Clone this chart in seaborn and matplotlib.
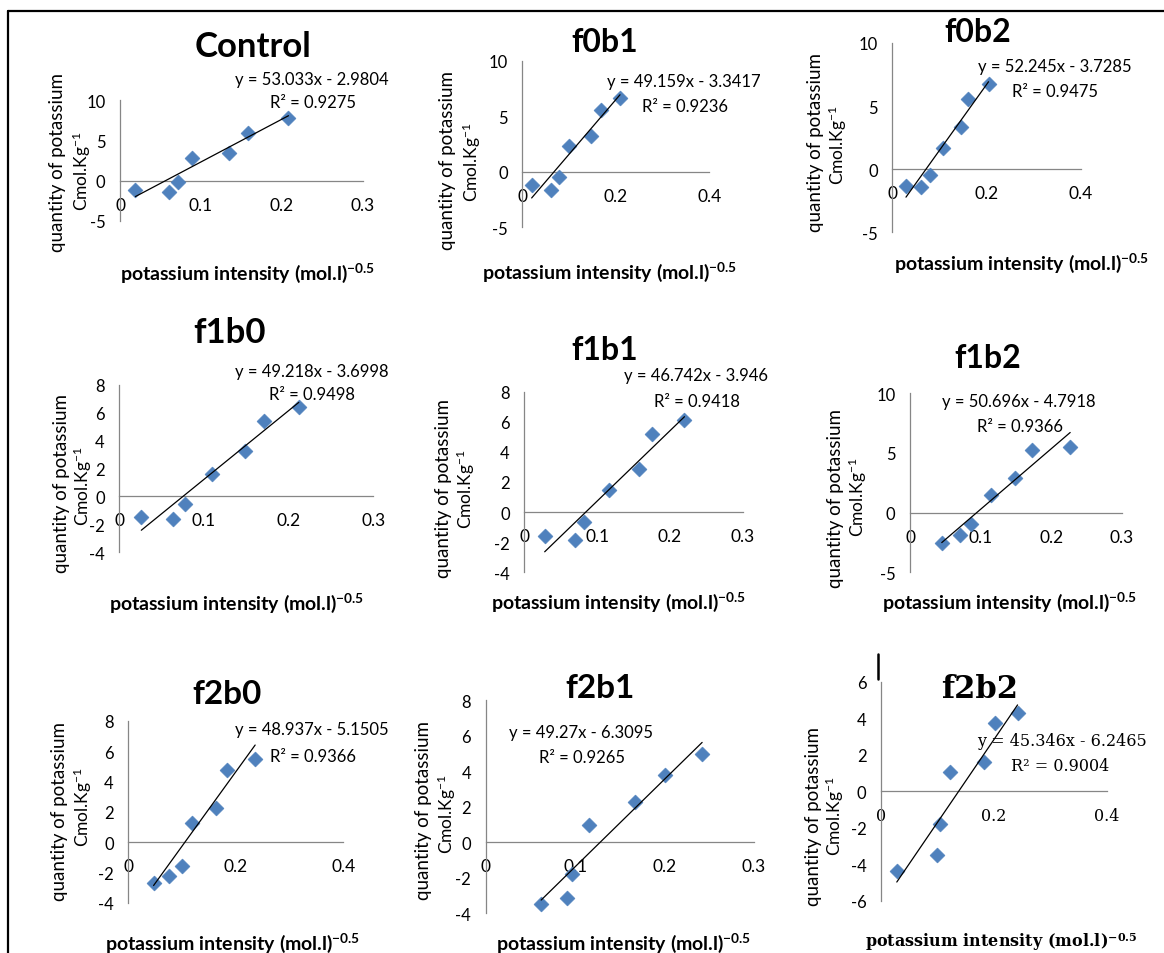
import numpy as np
import pandas as pd
import matplotlib
matplotlib.use("Agg")
import matplotlib.pyplot as plt
import seaborn as sns
from matplotlib.ticker import MultipleLocator, FuncFormatter
from matplotlib.lines import Line2D

# ---------------- data ----------------
titles = ["Control", "f0b1", "f0b2", "f1b0", "f1b1", "f1b2", "f2b0", "f2b1", "f2b2"]

control_x = [0.019, 0.061, 0.072, 0.089, 0.135, 0.158, 0.208]
control_y = [-1.2, -1.4, -0.16, 2.84, 3.46, 5.9, 7.74]
f0b1_x = [0.020, 0.061, 0.079, 0.100, 0.146, 0.168, 0.209]
f0b1_y = [-1.17, -1.62, -0.51, 2.28, 3.18, 5.59, 6.64]
f0b2_x = [0.029, 0.060, 0.079, 0.107, 0.146, 0.161, 0.204]
f0b2_y = [-1.34, -1.39, -0.47, 1.71, 3.35, 5.58, 6.77]
f1b0_x = [0.026, 0.063, 0.078, 0.109, 0.149, 0.171, 0.212]
f1b0_y = [-1.47, -1.6, -0.52, 1.6, 3.27, 5.37, 6.4]
f1b1_x = [0.028, 0.070, 0.082, 0.116, 0.157, 0.176, 0.220]
f1b1_y = [-1.62, -1.84, -0.67, 1.45, 2.89, 5.22, 6.11]
f1b2_x = [0.045, 0.071, 0.087, 0.115, 0.149, 0.173, 0.227]
f1b2_y = [-2.52, -1.9, -0.98, 1.45, 2.94, 5.24, 5.51]
f2b0_x = [0.047, 0.076, 0.099, 0.118, 0.163, 0.184, 0.236]
f2b0_y = [-2.7, -2.22, -1.56, 1.29, 2.24, 4.76, 5.46]
f2b1_x = [0.062, 0.091, 0.097, 0.116, 0.167, 0.201, 0.242]
f2b1_y = [-3.47, -3.15, -1.78, 0.94, 2.25, 3.8, 4.95]
f2b2_x = [0.028, 0.099, 0.105, 0.122, 0.183, 0.202, 0.242]
f2b2_y = [-4.38, -3.47, -1.79, 1.04, 1.59, 3.72, 4.29]

slopes = [53.033, 49.159, 52.245, 49.218, 46.742, 50.696, 48.937, 49.27, 45.346]
intercepts = [-2.9804, -3.3417, -3.7285, -3.6998, -3.946, -4.7918, -5.1505, -6.3095, -6.2465]
r_squared = [0.9275, 0.9236, 0.9475, 0.9498, 0.9418, 0.9366, 0.9366, 0.9265, 0.9004]

x_max = [0.3, 0.4, 0.4, 0.3, 0.3, 0.3, 0.4, 0.3, 0.4]
x_step = [0.1, 0.2, 0.2, 0.1, 0.1, 0.1, 0.2, 0.1, 0.2]
y_min = [-5, -5, -5, -4, -4, -5, -4, -4, -6]
y_max = [10, 10, 10, 8, 8, 10, 8, 8, 6]
y_step = [5, 5, 5, 2, 2, 5, 2, 2, 2]

ylabel_line1 = "quantity of potassium"
ylabel_line2 = "Cmol.Kg$^{-1}$"
xlabel_text = "potassium intensity (mol.l)$^{\\mathbf{-0.5}}$"
xlabel_text_serif = "potassium intensity (mol.l)$^{\\mathsf{-0.5}}$"

xs = [control_x, f0b1_x, f0b2_x, f1b0_x, f1b1_x, f1b2_x, f2b0_x, f2b1_x, f2b2_x]
ys = [control_y, f0b1_y, f0b2_y, f1b0_y, f1b1_y, f1b2_y, f2b0_y, f2b1_y, f2b2_y]

# ---------------- layout (pixels) ----------------
W, H = 1164, 954
# axes box: x0, x1, y_bottom, y_top
ax_box = [(120, 363, 222, 101), (522.3, 709.3, 228.3, 61.7), (892.3, 1081, 233.3, 44),
          (119.3, 373.3, 553.3, 385.7), (524.3, 742.7, 573.3, 392.7), (910, 1121.7, 573.3, 394.3),
          (128.3, 343.3, 904, 721.7), (485.7, 754, 914.3, 701), (881, 1106.7, 901.7, 682.7)]
title_pos = [(253, 47), (605, 42), (978, 33), (230, 333), (605, 350), (988, 358),
             (227, 695), (600, 688), (980, 690)]
title_size = [25, 23, 23, 25, 23, 23, 24, 24, 22]
eq_pos = [(312, 80), (684, 82), (1055, 67), (312, 372), (696, 376), (1019, 402),
          (312, 730), (581, 733), (1062, 742)]
r2_pos = [(313, 103), (685, 107), (1055, 92), (312, 395), (697, 402), (1020, 427),
          (313, 757), (582, 758), (1060, 767)]
yl1_pos = [(57, 162), (448, 160), (815, 142), (62, 484), (443, 488), (835, 498),
           (60, 812), (423, 810), (813, 816)]
yl2_pos = [(82, 171), (472, 162), (838, 145), (83, 486), (466, 489), (858, 497),
           (83, 807), (447, 814), (835, 816)]
xl_pos = [(248, 273), (610, 272), (1022, 263), (237, 603), (619, 602), (1010, 602),
          (233, 943), (624, 943), (1001, 942)]
serif_panel = [False] * 8 + [True]

sns.set_style("white")
SANS = ["Lato", "DejaVu Sans"]
SERIF = ["DejaVu Serif", "DejaVu Sans"]
plt.rcParams["font.family"] = SANS
plt.rcParams["axes.unicode_minus"] = False
plt.rcParams["mathtext.fontset"] = "custom"
plt.rcParams["mathtext.rm"] = "Lato"
plt.rcParams["mathtext.it"] = "Lato:italic"
plt.rcParams["mathtext.bf"] = "Lato:bold"
plt.rcParams["mathtext.sf"] = "DejaVu Serif:bold"

fig = plt.figure(figsize=(W / 100, H / 100), dpi=100)
fig.patch.set_facecolor("white")


def fx(px):
    return px / W


def fy(py):
    return 1 - py / H


AX_COL = "#868686"
PT_COL = "#4F81BD"
TXT = "#000000"
fmt = FuncFormatter(lambda v, p: f"{v:g}")

for i in range(9):
    x0, x1, yb, yt = ax_box[i]
    ax = fig.add_axes([fx(x0), fy(yb), (x1 - x0) / W, (yb - yt) / H])
    ax.set_facecolor("none")
    df = pd.DataFrame({"x": xs[i], "y": ys[i]})
    sns.scatterplot(data=df, x="x", y="y", ax=ax, marker="D", s=58,
                    color=PT_COL, edgecolor="#4A7EBB", linewidth=0.4, zorder=3, clip_on=False)
    xl = np.array([min(xs[i]), max(xs[i])])
    line_df = pd.DataFrame({"x": xl, "y": slopes[i] * xl + intercepts[i]})
    sns.lineplot(data=line_df, x="x", y="y", ax=ax, color="black", linewidth=0.9,
                 zorder=4, clip_on=False)
    ax.set_xlim(0, x_max[i])
    ax.set_ylim(y_min[i], y_max[i])
    ax.xaxis.set_major_locator(MultipleLocator(x_step[i]))
    ax.yaxis.set_major_locator(MultipleLocator(y_step[i]))
    ax.xaxis.set_major_formatter(fmt)
    ax.yaxis.set_major_formatter(fmt)
    ax.set_xlabel("")
    ax.set_ylabel("")
    for s in ("top", "right"):
        ax.spines[s].set_visible(False)
    ax.spines["bottom"].set_position(("data", 0))
    for s in ("bottom", "left"):
        ax.spines[s].set_color(AX_COL)
        ax.spines[s].set_linewidth(0.9)
    ax.tick_params(axis="both", direction="out", length=4.5, width=0.9, color=AX_COL,
                   labelcolor=TXT)
    ax.tick_params(axis="y", labelsize=12, pad=6)
    if serif_panel[i]:
        ax.tick_params(axis="x", labelsize=11.5, pad=7, labelfontfamily="DejaVu Serif")
    else:
        ax.tick_params(axis="x", labelsize=12.5, pad=7)
    ax.grid(False)

    fam = SERIF if serif_panel[i] else SANS
    fs_eq = 11.5 if serif_panel[i] else 12
    fig.text(fx(title_pos[i][0]), fy(title_pos[i][1]), titles[i], ha="center", va="center",
             fontsize=title_size[i], fontweight="bold", family=fam, color=TXT)
    eq = f"y = {slopes[i]:g}x - {abs(intercepts[i]):g}"
    fig.text(fx(eq_pos[i][0]), fy(eq_pos[i][1]), eq, ha="center", va="center",
             fontsize=fs_eq, family=fam, color=TXT)
    fig.text(fx(r2_pos[i][0]), fy(r2_pos[i][1]), f"R² = {r_squared[i]:g}", ha="center",
             va="center", fontsize=fs_eq, family=fam, color=TXT)
    fig.text(fx(yl1_pos[i][0]), fy(yl1_pos[i][1]), ylabel_line1, rotation=90, ha="center",
             va="center", fontsize=13.5, family=SANS, color=TXT)
    fig.text(fx(yl2_pos[i][0]), fy(yl2_pos[i][1]), ylabel_line2, rotation=90, ha="center",
             va="center", fontsize=12.5, family=SANS, color=TXT)
    fig.text(fx(xl_pos[i][0]), fy(xl_pos[i][1]),
             xlabel_text_serif if serif_panel[i] else xlabel_text, ha="center", va="center",
             fontsize=11.5 if serif_panel[i] else 14, fontweight="bold", family=fam,
             color=TXT)

# frame lines of the composite picture
fig.add_artist(Line2D([fx(8), fx(W)], [fy(12), fy(12)], color="black", linewidth=1.6))
fig.add_artist(Line2D([fx(8), fx(8)], [fy(12), fy(H)], color="black", linewidth=1.6))
fig.add_artist(Line2D([fx(878), fx(878)], [fy(655), fy(680)], color="black", linewidth=1.8))

fig.savefig("out.png", dpi=100, facecolor="white")
